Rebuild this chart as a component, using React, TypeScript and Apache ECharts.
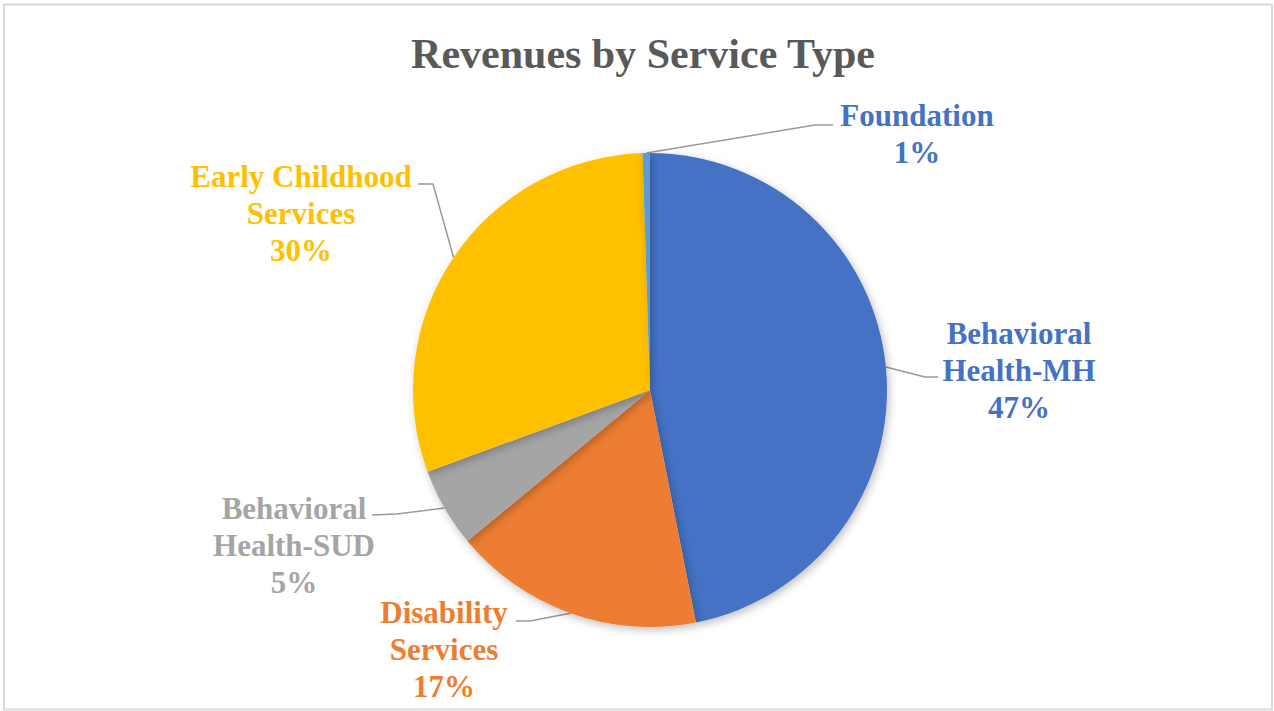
import React, { useEffect, useRef } from "react";
import * as echarts from "echarts";

const categories = [
  "Behavioral\nHealth-MH",
  "Disability\nServices",
  "Behavioral\nHealth-SUD",
  "Early Childhood\nServices",
  "Foundation",
];
const revenueShares = [46.9, 17.1, 5.4, 30.1, 0.5];
const sliceColors = ["#4472C4", "#ED7D31", "#A5A5A5", "#FFC000", "#5B9BD5"];
const labelColors = ["#4472C4", "#ED7D31", "#A5A5A5", "#FFC000", "#4472C4"];
const titleText = "Revenues by Service Type";

// label block centres and leader-line elbow/end points (layout only)
const labelCenters: [number, number][] = [
  [1019, 370],
  [444, 649],
  [294, 545],
  [301, 213],
  [917, 134],
];
const leaderBends: [number, number][][] = [
  [[925, 377], [938, 377]],
  [[530, 621], [516, 621]],
  [[397, 514], [372, 515]],
  [[433, 184], [418, 184]],
  [[815, 125], [833, 125]],
];

const FONT = "'Liberation Serif', 'Times New Roman', serif";

export default function App() {
  const ref = useRef<HTMLDivElement>(null);
  useEffect(() => {
    if (!ref.current) return;
    const chart = echarts.init(ref.current, undefined, { renderer: "svg" });
    chart.setOption({
      animation: false,
      backgroundColor: "#ffffff",
      title: {
        text: titleText,
        left: 638,
        textAlign: "center",
        top: 28,
        textStyle: {
          fontFamily: FONT,
          fontWeight: "bold",
          fontSize: 42,
          color: "#595959",
        },
      },
      graphic: [
        {
          type: "rect",
          shape: { x: 4, y: 4.5, width: 1268, height: 705 },
          style: { fill: "none", stroke: "#d9d9d9", lineWidth: 2 },
          silent: true,
        },
      ],
      series: [
        {
          type: "pie",
          center: [650, 390],
          radius: 237,
          startAngle: 90,
          clockwise: true,
          percentPrecision: 0,
          avoidLabelOverlap: false,
          itemStyle: {
            borderWidth: 0,
            shadowBlur: 8,
            shadowColor: "rgba(0,0,0,0.25)",
            shadowOffsetX: 2,
            shadowOffsetY: 3,
          },
          label: {
            show: true,
            position: "outside",
            formatter: "{b}\n{d}%",
            fontFamily: FONT,
            fontWeight: "bold",
            fontSize: 31,
            lineHeight: 37,
            align: "center",
          },
          labelLine: {
            show: true,
            lineStyle: { color: "#999999", width: 1.5 },
          },
          labelLayout: (params: any) => {
            const i = params.dataIndex;
            const pts = params.labelLinePoints;
            const anchor = pts ? pts[0] : [0, 0];
            return {
              x: labelCenters[i][0],
              y: labelCenters[i][1],
              align: "center",
              verticalAlign: "middle",
              labelLinePoints: [anchor, leaderBends[i][0], leaderBends[i][1]],
            };
          },
          data: categories.map((name, i) => ({
            name,
            value: revenueShares[i],
            itemStyle: { color: sliceColors[i] },
            label: { color: labelColors[i] },
          })),
        },
      ],
    });
    return () => chart.dispose();
  }, []);
  return (
    <div
      ref={ref}
      style={{ position: "fixed", left: 0, top: 0, width: 1274, height: 711 }}
    />
  );
}
